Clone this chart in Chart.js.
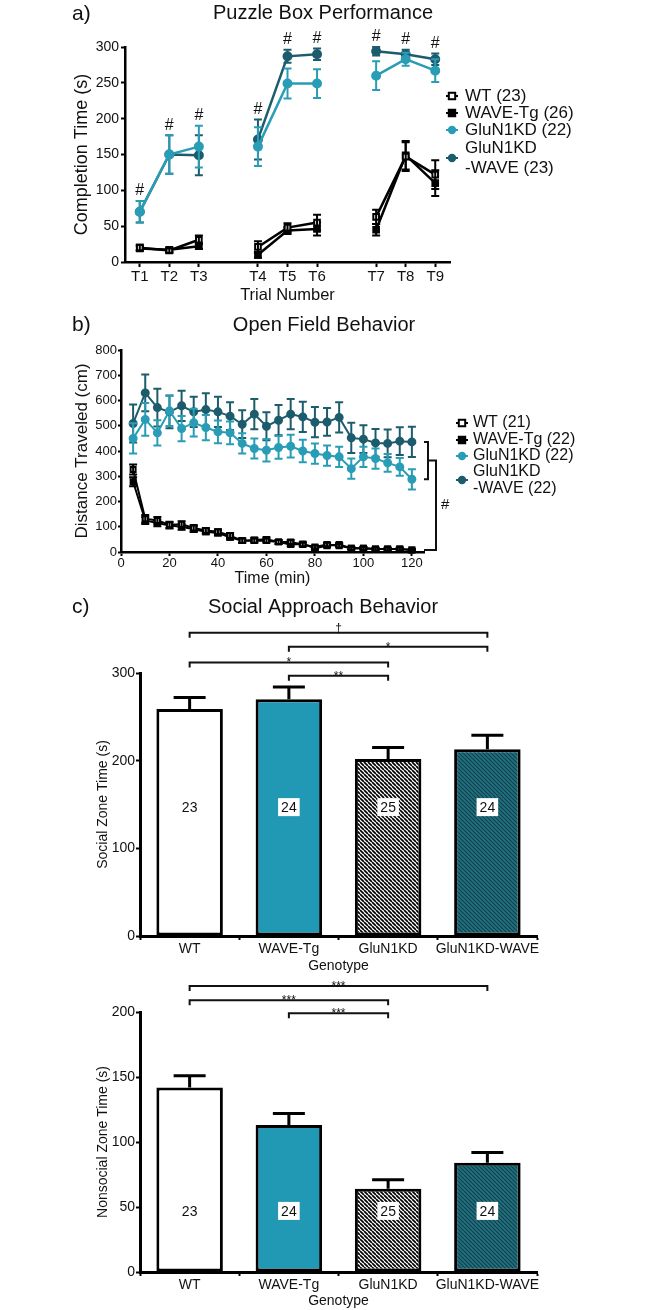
<!DOCTYPE html>
<html>
<head>
<meta charset="utf-8">
<title>Puzzle box, open field and social approach</title>
<script src="https://cdn.jsdelivr.net/npm/chart.js@4.4.1/dist/chart.umd.min.js"></script>
<style>
  html, body { margin: 0; padding: 0; background: #fff; }
  #page { position: relative; width: 649px; height: 1310px; overflow: hidden; }
  canvas { position: absolute; left: 0; }
</style>
</head>
<body>
<div id="page">
  <canvas id="puzzle" width="649" height="310" style="top:0"></canvas>
  <canvas id="openField" width="649" height="280" style="top:310px"></canvas>
  <canvas id="social" width="649" height="385" style="top:590px"></canvas>
  <canvas id="nonsocial" width="649" height="335" style="top:975px"></canvas>
</div>
<script>
// ---- a) puzzle box, completion time per trial (mean, sem) ----
const trials = ["T1", "T2", "T3", "T4", "T5", "T6", "T7", "T8", "T9"]
const trialBlock = 3 // trials per day, blank slot between days
const puzzleWT = [20, 16, 31, 21, 48, 55, 63, 147, 122]
const puzzleWTErr = [4, 3, 6, 8, 6, 11, 10, 20, 20]
const puzzleWave = [19, 17, 22, 10, 44, 46, 45, 149, 110]
const puzzleWaveErr = [3, 3, 4, 4, 5, 9, 8, 20, 18]
const puzzleKD = [70, 150, 161, 161, 249, 249, 260, 283, 267]
const puzzleKDErr = [15, 27, 29, 27, 21, 20, 20, 9, 16]
const puzzleKDW = [70, 150, 149, 171, 287, 290, 294, 290, 283]
const puzzleKDWErr = [15, 27, 28, 28, 9, 8, 6, 6, 8]
const puzzleSig = ["#", "#", "#", "#", "#", "#", "#", "#", "#"]

// ---- b) open field, distance per 5 min bin ----
const minutes = [5, 10, 15, 20, 25, 30, 35, 40, 45, 50, 55, 60, 65, 70, 75, 80, 85, 90, 95, 100, 105, 110, 115, 120]
const timeTicks = [0, 20, 40, 60, 80, 100, 120]
const openWT = [327, 132, 125, 108, 110, 95, 85, 80, 65, 45, 45, 45, 40, 40, 30, 20, 30, 25, 15, 15, 12, 12, 12, 8]
const openWTErr = [20, 15, 14, 12, 12, 12, 10, 10, 10, 8, 8, 8, 8, 8, 7, 6, 7, 6, 5, 5, 5, 5, 5, 4]
const openWave = [278, 125, 115, 105, 100, 90, 80, 75, 58, 45, 48, 50, 40, 30, 32, 15, 25, 30, 15, 15, 12, 12, 12, 8]
const openWaveErr = [18, 14, 13, 12, 12, 11, 10, 10, 9, 8, 8, 8, 8, 7, 7, 6, 7, 6, 5, 5, 5, 5, 5, 4]
const openKD = [450, 525, 472, 559, 489, 512, 493, 476, 472, 430, 410, 403, 414, 419, 400, 390, 382, 377, 330, 377, 370, 353, 337, 288]
const openKDErr = [60, 65, 50, 60, 50, 55, 50, 45, 45, 40, 40, 45, 45, 45, 45, 40, 40, 40, 40, 40, 40, 35, 35, 40]
const openKDW = [509, 630, 572, 555, 579, 555, 564, 555, 538, 506, 546, 498, 522, 546, 535, 514, 515, 533, 452, 447, 432, 430, 439, 436]
const openKDWErr = [75, 73, 75, 65, 60, 60, 65, 60, 55, 55, 60, 55, 60, 60, 60, 60, 55, 60, 60, 55, 55, 55, 55, 60]

// ---- c) social approach ----
const genotypes = ["WT", "WAVE-Tg", "GluN1KD", "GluN1KD-WAVE"]
const groupN = ["23", "24", "25", "24"]
const socialTime = [259, 270, 202, 213]
const socialErr = [13, 14, 13, 16]
const nonsocialTime = [142, 113, 64, 84]
const nonsocialErr = [9, 9, 7, 8]
const socialSig = [
  { from: 0, to: 3, level: 346, text: "†" },
  { from: 1, to: 3, level: 330, text: "*" },
  { from: 0, to: 2, level: 312, text: "*" },
  { from: 1, to: 2, level: 297, text: "**" }
]
const nonsocialSig = [
  { from: 0, to: 3, level: 220, text: "***" },
  { from: 0, to: 2, level: 209, text: "***" },
  { from: 1, to: 2, level: 199, text: "***" }
]

const FONT = '"Liberation Sans", Arial, Helvetica, sans-serif'
const LIGHT = "#2a9db6"
const DARK = "#1d5c6d"
const INK = "#111"
Chart.defaults.font.family = FONT
Chart.defaults.color = INK
Chart.defaults.animation = false

function withGaps(arr) {
  const out = []
  arr.forEach((v, i) => {
    if (i > 0 && i % trialBlock === 0) out.push(null)
    out.push(v)
  })
  return out
}

function hatch(bg, fg, size, lw) {
  const tile = document.createElement("canvas")
  tile.width = tile.height = size
  const g = tile.getContext("2d")
  g.fillStyle = bg
  g.fillRect(0, 0, size, size)
  g.strokeStyle = fg
  g.lineWidth = lw
  g.beginPath()
  for (let k = -1; k <= 1; k++) {
    g.moveTo(k * size, 0)
    g.lineTo(k * size + size, size)
  }
  g.stroke()
  return g.createPattern(tile, "repeat")
}

function drawMarker(ctx, ds, x, y, r) {
  ctx.save()
  ctx.fillStyle = ds.pointBackgroundColor
  ctx.strokeStyle = ds.pointBorderColor
  ctx.lineWidth = 2
  ctx.beginPath()
  if (ds.pointStyle === "rect") ctx.rect(x - r, y - r, 2 * r, 2 * r)
  else ctx.arc(x, y, r, 0, Math.PI * 2)
  ctx.fill()
  ctx.stroke()
  ctx.restore()
}

// error bars from dataset.errors, drawn right after each dataset
const errorBars = {
  id: "errorBars",
  afterDatasetDraw(chart, args, o) {
    const ds = chart.data.datasets[args.index]
    if (!ds.errors) return
    const { ctx } = chart
    const y = chart.scales.y
    ctx.save()
    ctx.strokeStyle = ds.errorColor || ds.borderColor
    ctx.lineWidth = o.width
    args.meta.data.forEach((el, j) => {
      const raw = ds.data[j]
      const e = ds.errors[j]
      if (raw == null || e == null) return
      const v = typeof raw === "object" ? raw.y : raw
      const top = y.getPixelForValue(v + e)
      const bot = y.getPixelForValue(o.upOnly ? v : v - e)
      ctx.beginPath()
      ctx.moveTo(el.x, top)
      ctx.lineTo(el.x, bot)
      ctx.moveTo(el.x - o.cap, top)
      ctx.lineTo(el.x + o.cap, top)
      if (!o.upOnly) {
        ctx.moveTo(el.x - o.cap, bot)
        ctx.lineTo(el.x + o.cap, bot)
      }
      ctx.stroke()
    })
    ctx.restore()
  }
}

// panel letter and centred title
const decor = {
  id: "decor",
  afterDraw(chart, args, o) {
    if (!o.title) return
    const { ctx } = chart
    ctx.save()
    ctx.fillStyle = INK
    ctx.textBaseline = "middle"
    ctx.textAlign = "left"
    ctx.font = `21px ${FONT}`
    ctx.fillText(o.tag, 72, o.tagY)
    ctx.textAlign = "center"
    ctx.font = `20px ${FONT}`
    ctx.fillText(o.title, o.titleX, o.titleY)
    ctx.restore()
  }
}

// legend at the right, labels may hold a line break
const sideLegend = {
  id: "sideLegend",
  afterDraw(chart, args, o) {
    if (!o.rows) return
    const { ctx } = chart
    ctx.save()
    ctx.font = `${o.size}px ${FONT}`
    ctx.textBaseline = "middle"
    ctx.textAlign = "left"
    chart.data.datasets.forEach((ds, i) => {
      const y = o.rows[i]
      ctx.strokeStyle = ds.borderColor
      ctx.lineWidth = 2
      ctx.beginPath()
      ctx.moveTo(o.x - 6, y)
      ctx.lineTo(o.x + 6, y)
      ctx.stroke()
      drawMarker(ctx, ds, o.x, y, 3.2)
      ctx.fillStyle = INK
      const lines = ds.label.split("\n")
      lines.forEach((t, k) => {
        ctx.fillText(t, o.textX, y + (k - (lines.length - 1) / 2) * o.gap)
      })
    })
    ctx.restore()
  }
}

Chart.register(errorBars, decor, sideLegend)

// "#" above each puzzle trial
const trialMarks = {
  id: "trialMarks",
  afterDatasetsDraw(chart) {
    const { ctx, scales: { x, y } } = chart
    ctx.save()
    ctx.font = `16px ${FONT}`
    ctx.textAlign = "center"
    ctx.textBaseline = "middle"
    ctx.fillStyle = INK
    puzzleSig.forEach((mark, i) => {
      if (!mark) return
      const top = Math.max(puzzleKD[i] + puzzleKDErr[i], puzzleKDW[i] + puzzleKDWErr[i])
      const slot = i + Math.floor(i / trialBlock)
      ctx.fillText(mark, x.getPixelForValue(slot), y.getPixelForValue(top) - 10)
    })
    ctx.restore()
  }
}

// nested bracket at the end of the open field curves
const trendBracket = {
  id: "trendBracket",
  afterDraw(chart) {
    const { ctx, scales: { y } } = chart
    const last = minutes.length - 1
    const hi = y.getPixelForValue(openKDW[last])
    const lo = y.getPixelForValue(openKD[last])
    const base = y.getPixelForValue((openWT[last] + openWave[last]) / 2)
    const x1 = chart.chartArea.right + 4
    const x2 = x1 + 8
    const mid = (hi + lo) / 2
    ctx.save()
    ctx.strokeStyle = INK
    ctx.lineWidth = 2
    ctx.beginPath()
    ctx.moveTo(x1 - 4, hi)
    ctx.lineTo(x1, hi)
    ctx.lineTo(x1, lo)
    ctx.lineTo(x1 - 4, lo)
    ctx.moveTo(x1, mid)
    ctx.lineTo(x2, mid)
    ctx.lineTo(x2, base)
    ctx.lineTo(x1 - 4, base)
    ctx.stroke()
    ctx.fillStyle = INK
    ctx.font = `15px ${FONT}`
    ctx.textAlign = "left"
    ctx.textBaseline = "middle"
    ctx.fillText("#", x2 + 5, (mid + base) / 2)
    ctx.restore()
  }
}

// significance brackets above the bars
const sigBrackets = {
  id: "sigBrackets",
  afterDraw(chart, args, o) {
    if (!o.list) return
    const { ctx, scales: { x, y } } = chart
    ctx.save()
    ctx.strokeStyle = INK
    ctx.fillStyle = INK
    ctx.lineWidth = 2
    ctx.font = `12px ${FONT}`
    ctx.textAlign = "center"
    ctx.textBaseline = "alphabetic"
    o.list.forEach(b => {
      const x1 = x.getPixelForValue(b.from)
      const x2 = x.getPixelForValue(b.to)
      const yy = y.getPixelForValue(b.level)
      ctx.beginPath()
      ctx.moveTo(x1, yy + 5)
      ctx.lineTo(x1, yy)
      ctx.lineTo(x2, yy)
      ctx.lineTo(x2, yy + 5)
      ctx.stroke()
      ctx.fillText(b.text, (x1 + x2) / 2, b.text.includes("*") ? yy + 4 : yy - 1)
    })
    ctx.restore()
  }
}

// group sizes in white boxes inside the bars
const groupLabels = {
  id: "groupLabels",
  afterDatasetsDraw(chart, args, o) {
    const { ctx, scales: { y } } = chart
    const meta = chart.getDatasetMeta(0)
    const yy = y.getPixelForValue(o.at)
    ctx.save()
    ctx.font = `14px ${FONT}`
    ctx.textAlign = "center"
    ctx.textBaseline = "middle"
    meta.data.forEach((bar, i) => {
      const w = ctx.measureText(groupN[i]).width + 6
      ctx.fillStyle = "#fff"
      ctx.fillRect(bar.x - w / 2, yy - 9, w, 18)
      ctx.fillStyle = INK
      ctx.fillText(groupN[i], bar.x, yy + 1)
    })
    ctx.restore()
  }
}

function lineSeries(label, values, errors, color, fill, shape) {
  return {
    label,
    data: values,
    errors,
    borderColor: color,
    pointBackgroundColor: fill,
    pointBorderColor: color,
    pointStyle: shape,
    clip: false
  }
}

function axisGrid(len) {
  return { drawOnChartArea: false, tickLength: len, tickColor: "#000", tickWidth: 2 }
}

// a) Puzzle box
new Chart(document.getElementById("puzzle"), {
  type: "line",
  data: {
    labels: withGaps(trials).map(t => t ?? ""),
    datasets: [
      lineSeries("WT (23)", withGaps(puzzleWT), withGaps(puzzleWTErr), "#000", "#fff", "rect"),
      lineSeries("WAVE-Tg (26)", withGaps(puzzleWave), withGaps(puzzleWaveErr), "#000", "#000", "rect"),
      lineSeries("GluN1KD (22)", withGaps(puzzleKD), withGaps(puzzleKDErr), LIGHT, LIGHT, "circle"),
      lineSeries("GluN1KD\n-WAVE (23)", withGaps(puzzleKDW), withGaps(puzzleKDWErr), DARK, DARK, "circle")
    ]
  },
  options: {
    responsive: false,
    layout: { padding: { left: 0, right: 199, top: 47, bottom: 0 } },
    elements: { line: { borderWidth: 2.5 }, point: { radius: 4, borderWidth: 2 } },
    plugins: {
      legend: { display: false },
      tooltip: { enabled: false },
      decor: { tag: "a)", tagY: 14, title: "Puzzle Box Performance", titleX: 323, titleY: 13 },
      sideLegend: { x: 452, textX: 465, rows: [96, 113, 130, 158], gap: 20, size: 17 },
      errorBars: { cap: 4, width: 2 }
    },
    scales: {
      x: {
        offset: true,
        grid: {
          drawOnChartArea: false, tickLength: 5, tickWidth: 2,
          tickColor: c => (c.tick && c.tick.label ? "#000" : "rgba(0,0,0,0)")
        },
        border: { color: "#000", width: 2.5 },
        ticks: { font: { size: 15 }, padding: 1, maxRotation: 0, autoSkip: false },
        title: { display: true, text: "Trial Number", font: { size: 16.5 }, padding: { top: 0, bottom: 5 } },
        afterFit: s => { s.height = 48 }
      },
      y: {
        min: 0,
        max: 300,
        grid: axisGrid(4),
        border: { color: "#000", width: 2.5 },
        ticks: { stepSize: 50, font: { size: 14 }, padding: 2 },
        title: { display: true, text: "Completion Time (s)", font: { size: 18 }, padding: { top: 71, bottom: 0 } },
        afterFit: s => { s.width = 125 }
      }
    }
  },
  plugins: [trialMarks]
})

// b) Open field
const pts = arr => minutes.map((m, i) => ({ x: m, y: arr[i] }))
new Chart(document.getElementById("openField"), {
  type: "line",
  data: {
    datasets: [
      lineSeries("WT (21)", pts(openWT), openWTErr, "#000", "#fff", "rect"),
      lineSeries("WAVE-Tg (22)", pts(openWave), openWaveErr, "#000", "#000", "rect"),
      lineSeries("GluN1KD (22)", pts(openKD), openKDErr, LIGHT, LIGHT, "circle"),
      lineSeries("GluN1KD\n-WAVE (22)", pts(openKDW), openKDWErr, DARK, DARK, "circle")
    ]
  },
  options: {
    responsive: false,
    layout: { padding: { left: 0, right: 225, top: 40, bottom: 0 } },
    elements: { line: { borderWidth: 2 }, point: { radius: 3.5, borderWidth: 2 } },
    plugins: {
      legend: { display: false },
      tooltip: { enabled: false },
      decor: { tag: "b)", tagY: 15, title: "Open Field Behavior", titleX: 324, titleY: 15 },
      sideLegend: { x: 462, textX: 473, rows: [113, 130, 146, 170], gap: 17, size: 16 },
      errorBars: { cap: 4, width: 2 }
    },
    scales: {
      x: {
        type: "linear",
        min: 0,
        max: 125,
        grid: axisGrid(4),
        border: { color: "#000", width: 2.5 },
        ticks: { font: { size: 13 }, padding: 0, maxRotation: 0 },
        afterBuildTicks: s => { s.ticks = timeTicks.map(v => ({ value: v })) },
        title: { display: true, text: "Time (min)", font: { size: 16 }, padding: { top: 0, bottom: 2 } },
        afterFit: s => { s.height = 38 }
      },
      y: {
        min: 0,
        max: 800,
        grid: axisGrid(3),
        border: { color: "#000", width: 2.5 },
        ticks: { stepSize: 100, font: { size: 13 }, padding: 1 },
        title: { display: true, text: "Distance Traveled (cm)", font: { size: 17 }, padding: { top: 72, bottom: 0 } },
        afterFit: s => { s.width = 121 }
      }
    }
  },
  plugins: [trendBracket]
})

// c) Social approach, two bar charts
const barFills = ["#fff", "#2299b4", hatch("#fff", "#000", 4, 1.7), hatch("#217180", "#123f4b", 4, 1.2)]

function zoneChart(id, values, errors, yMax, yStep, yTitle, sig, labelAt, padTop, xHeight, decorOpts) {
  return new Chart(document.getElementById(id), {
    type: "bar",
    data: {
      labels: genotypes,
      datasets: [{
        data: values,
        errors,
        errorColor: "#000",
        backgroundColor: barFills,
        borderColor: "#000",
        borderWidth: 3,
        borderSkipped: false,
        barPercentage: 0.67,
        categoryPercentage: 1
      }]
    },
    options: {
      responsive: false,
      layout: { padding: { left: 0, right: 112, top: padTop, bottom: 0 } },
      plugins: {
        legend: { display: false },
        tooltip: { enabled: false },
        decor: decorOpts,
        errorBars: { cap: 16, width: 3, upOnly: true },
        sigBrackets: { list: sig },
        groupLabels: { at: labelAt }
      },
      scales: {
        x: {
          grid: axisGrid(4),
          border: { color: "#000", width: 3 },
          ticks: { font: { size: 14 }, padding: 1, maxRotation: 0, autoSkip: false },
          title: { display: true, text: "Genotype", font: { size: 14 }, padding: { top: 0, bottom: 0 } },
          afterFit: s => { s.height = xHeight }
        },
        y: {
          min: 0,
          max: yMax,
          grid: axisGrid(4),
          border: { color: "#000", width: 3 },
          ticks: { stepSize: yStep, font: { size: 14 }, padding: 1 },
          title: { display: true, text: yTitle, font: { size: 14 }, padding: { top: 94.6, bottom: 0 } },
          afterFit: s => { s.width = 140 }
        }
      }
    },
    plugins: [sigBrackets, groupLabels]
  })
}

zoneChart("social", socialTime, socialErr, 300, 100, "Social Zone Time (s)", socialSig, 147, 83, 39,
  { tag: "c)", tagY: 17, title: "Social Approach Behavior", titleX: 323, titleY: 17 })
zoneChart("nonsocial", nonsocialTime, nonsocialErr, 200, 50, "Nonsocial Zone Time (s)", nonsocialSig, 47, 37, 38, {})
</script>
</body>
</html>
